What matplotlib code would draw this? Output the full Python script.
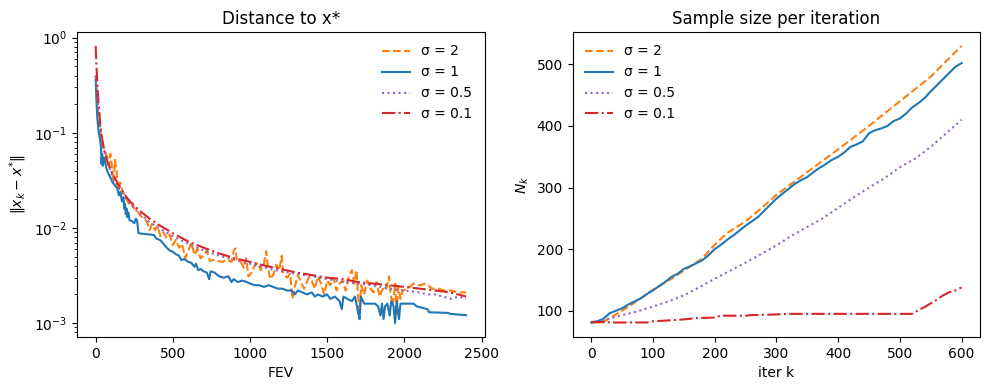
import matplotlib
matplotlib.use('Agg')
from matplotlib import pyplot as plt

labels = ['σ = 2', 'σ = 1', 'σ = 0.5', 'σ = 0.1']
colors = ['#ff7f0e', '#1f77b4', '#9467bd', '#d62728']
styles = ['--', '-', ':', '-.']

# distance to x* vs FEV
fev_s2 = [0, 10, 20, 30, 45, 60, 75, 85, 95, 105, 115, 125, 135, 145, 160, 175, 190, 200,
          215, 230, 250, 270, 290, 310, 330, 350, 365, 385, 400, 420, 440, 460, 480, 500,
          520, 540, 560, 580, 600, 620, 640, 660, 680, 700, 720, 740, 760, 790, 820, 850,
          880, 895, 905, 915, 940, 960, 975, 990, 1010, 1030, 1050, 1070, 1090, 1105, 1115,
          1130, 1150, 1170, 1190, 1205, 1215, 1240, 1260, 1275, 1290, 1310, 1330, 1350, 1380,
          1400, 1420, 1440, 1460, 1480, 1500, 1520, 1540, 1560, 1580, 1600, 1620, 1640, 1660,
          1675, 1690, 1700, 1710, 1720, 1740, 1760, 1780, 1800, 1820, 1840, 1860, 1880, 1900,
          1910, 1925, 1940, 1950, 1960, 1975, 1990, 2020, 2060, 2100, 2140, 2180, 2220, 2260,
          2300, 2350, 2400]
dist_s2 = [0.4, 0.2, 0.13, 0.1, 0.08, 0.065, 0.055, 0.045, 0.06, 0.045, 0.03, 0.052, 0.04,
           0.025, 0.03, 0.024, 0.022, 0.02, 0.018, 0.019, 0.016, 0.015, 0.0135, 0.0125, 0.0118,
           0.0095, 0.011, 0.0095, 0.0105, 0.0082, 0.009, 0.0078, 0.0085, 0.0066, 0.0075, 0.0062,
           0.0068, 0.0048, 0.0058, 0.007, 0.0052, 0.006, 0.0048, 0.0052, 0.0058, 0.0045, 0.0046,
           0.0045, 0.0044, 0.0046, 0.0044, 0.0058, 0.0061, 0.0046, 0.0044, 0.0038, 0.0048,
           0.0031, 0.0034, 0.004, 0.0043, 0.0036, 0.0042, 0.0057, 0.004, 0.0029, 0.0032, 0.0041,
           0.0036, 0.0051, 0.0034, 0.003, 0.0033, 0.0018, 0.0024, 0.0032, 0.0027, 0.0023, 0.003,
           0.0028, 0.0023, 0.0031, 0.0026, 0.002, 0.0028, 0.0025, 0.003, 0.0022, 0.0026, 0.0028,
           0.0022, 0.0031, 0.0036, 0.0026, 0.0036, 0.0019, 0.0013, 0.0025, 0.002, 0.0028,
           0.0023, 0.0021, 0.0027, 0.0019, 0.0023, 0.0022, 0.0031, 0.0021, 0.0015, 0.0026,
           0.0012, 0.0024, 0.0018, 0.0022, 0.0023, 0.0026, 0.0025, 0.0026, 0.0023, 0.0023,
           0.0022, 0.0022, 0.0021, 0.0021]

fev_s1 = [0, 5, 10, 15, 20, 28, 35, 38, 42, 46, 52, 60, 70, 80, 95, 110, 125, 140, 150, 160,
          170, 180, 185, 190, 195, 200, 205, 212, 220, 235, 250, 260, 268, 278, 300, 330, 360,
          380, 390, 420, 440, 460, 480, 500, 520, 540, 555, 575, 600, 620, 640, 650, 665, 680,
          700, 720, 735, 745, 770, 800, 830, 860, 880, 895, 920, 950, 980, 1000, 1030, 1060,
          1090, 1120, 1150, 1180, 1210, 1240, 1270, 1290, 1310, 1340, 1370, 1400, 1420, 1440,
          1470, 1500, 1520, 1550, 1580, 1595, 1605, 1630, 1660, 1680, 1700, 1710, 1718, 1740,
          1780, 1810, 1830, 1845, 1855, 1865, 1875, 1890, 1905, 1915, 1930, 1940, 1950, 1965,
          1975, 2000, 2060, 2080, 2150, 2160, 2280, 2300, 2400]
dist_s1 = [0.36, 0.22, 0.15, 0.12, 0.1, 0.085, 0.07, 0.047, 0.06, 0.045, 0.055, 0.05, 0.042,
           0.038, 0.034, 0.03, 0.028, 0.026, 0.022, 0.024, 0.019, 0.021, 0.016, 0.018, 0.014,
           0.016, 0.013, 0.0145, 0.012, 0.0118, 0.0112, 0.0125, 0.012, 0.0088, 0.0087, 0.0086,
           0.0085, 0.0084, 0.0078, 0.0074, 0.0068, 0.0062, 0.0058, 0.0056, 0.0053, 0.0051,
           0.0046, 0.0047, 0.0044, 0.0043, 0.0039, 0.0042, 0.0036, 0.0037, 0.0035, 0.0034,
           0.0029, 0.0035, 0.0034, 0.0031, 0.003, 0.0031, 0.0027, 0.0029, 0.0027, 0.0028,
           0.0027, 0.0026, 0.0025, 0.0025, 0.0024, 0.0025, 0.0024, 0.0023, 0.0023, 0.0022,
           0.0022, 0.002, 0.0022, 0.0021, 0.002, 0.0021, 0.0019, 0.002, 0.0019, 0.002, 0.0018,
           0.0019, 0.0017, 0.0014, 0.0019, 0.0018, 0.0017, 0.0019, 0.0013, 0.0011, 0.0019,
           0.0016, 0.0016, 0.0016, 0.0015, 0.0012, 0.0016, 0.0011, 0.0015, 0.0016, 0.0012,
           0.0017, 0.0015, 0.001, 0.0017, 0.0011, 0.0016, 0.0016, 0.0016, 0.0015, 0.0014,
           0.0013, 0.00128, 0.00125, 0.00121]

fev_s05 = [0, 10, 20, 35, 50, 75, 100, 150, 200, 250, 300, 350, 400, 450, 500, 600, 700, 800,
           900, 1000, 1100, 1200, 1300, 1400, 1500, 1600, 1700, 1800, 1900, 2000, 2100, 2150,
           2200, 2250, 2300, 2350, 2400]
dist_s05 = [0.4, 0.22, 0.15, 0.1, 0.07, 0.05, 0.038, 0.026, 0.02, 0.016, 0.0135, 0.0115,
            0.0102, 0.0091, 0.0082, 0.0068, 0.0058, 0.0051, 0.0046, 0.0042, 0.0038, 0.0035,
            0.0033, 0.0031, 0.0029, 0.0027, 0.0026, 0.0025, 0.0023, 0.0022, 0.0021, 0.0020,
            0.0020, 0.0019, 0.0018, 0.0019, 0.0018]

fev_s01 = [0, 5, 15, 30, 50, 75, 100, 150, 200, 250, 300, 350, 400, 500, 600, 700, 800, 900,
           1000, 1100, 1200, 1300, 1400, 1500, 1600, 1700, 1800, 1900, 2000, 2100, 2200, 2300,
           2400]
dist_s01 = [0.82, 0.5, 0.25, 0.12, 0.07, 0.05, 0.04, 0.028, 0.021, 0.017, 0.0145, 0.0125,
            0.011, 0.0088, 0.0072, 0.0062, 0.0054, 0.0048, 0.0044, 0.004, 0.0037, 0.0034,
            0.0032, 0.003, 0.0029, 0.0027, 0.0026, 0.0025, 0.0024, 0.0023, 0.0022, 0.0021,
            0.0019]

# sample size per iteration
it_s2 = [0, 10, 20, 30, 50, 70, 100, 130, 150, 180, 200, 220, 250, 280, 300, 350, 400, 450,
         500, 550, 600]
n_s2 = [81, 81, 82, 88, 100, 113, 134, 152, 165, 185, 207, 226, 245, 270, 288, 325, 362,
        400, 440, 480, 530]

it_s1 = [0, 10, 20, 30, 40, 50, 60, 70, 80, 90, 100, 110, 120, 130, 140, 150, 160, 170, 180,
         190, 200, 210, 220, 230, 240, 250, 260, 270, 280, 290, 300, 310, 320, 330, 340, 350,
         360, 370, 380, 390, 400, 410, 420, 430, 440, 450, 460, 470, 480, 490, 500, 510, 520,
         530, 540, 550, 560, 570, 580, 590, 600]
n_s1 = [81, 83, 87, 96, 100, 104, 110, 115, 120, 127, 133, 140, 147, 155, 160, 168, 172, 177,
        182, 190, 200, 207, 215, 222, 230, 238, 245, 252, 262, 272, 282, 290, 298, 306, 312,
        317, 325, 332, 338, 345, 350, 357, 366, 370, 375, 388, 393, 396, 400, 408, 412, 420,
        430, 437, 445, 456, 466, 476, 486, 496, 502]

it_s05 = [0, 20, 50, 75, 100, 125, 150, 175, 200, 225, 250, 275, 300, 325, 350, 375, 400,
          425, 450, 475, 500, 525, 550, 575, 600]
n_s05 = [80, 85, 93, 99, 107, 115, 125, 138, 152, 165, 178, 192, 206, 222, 236, 250, 267,
         284, 300, 315, 333, 347, 366, 388, 410]

it_s01 = [0, 40, 90, 100, 120, 150, 170, 200, 210, 250, 260, 300, 320, 400, 450, 500, 520,
          530, 540, 550, 560, 570, 580, 590, 600]
n_s01 = [82, 81, 81, 83, 84, 86, 88, 89, 92, 92, 93, 94, 95, 95, 95, 95, 95, 101, 106, 112,
         118, 125, 130, 133, 138]

fig, (ax1, ax2) = plt.subplots(1, 2, figsize=(9.89, 3.9), dpi=100)

for x, y, lab, c, ls in zip([fev_s2, fev_s1, fev_s05, fev_s01],
                            [dist_s2, dist_s1, dist_s05, dist_s01],
                            labels, colors, styles):
    ax1.plot(x, y, linestyle=ls, color=c, label=lab)
ax1.set_yscale('log')
ax1.set_title('Distance to x*')
ax1.set_xlabel('FEV')
ax1.set_ylabel(r'$\|x_k - x^{*}\|$')
ax1.legend(loc='upper right', frameon=False)

for x, y, lab, c, ls in zip([it_s2, it_s1, it_s05, it_s01],
                            [n_s2, n_s1, n_s05, n_s01],
                            labels, colors, styles):
    ax2.plot(x, y, linestyle=ls, color=c, label=lab)
ax2.set_title('Sample size per iteration')
ax2.set_xlabel('iter k')
ax2.set_ylabel(r'$N_k$')
ax2.legend(loc='upper left', frameon=False)

plt.subplots_adjust(left=0.078, right=0.991, bottom=0.136, top=0.918, wspace=0.216)
plt.savefig('out.png')
